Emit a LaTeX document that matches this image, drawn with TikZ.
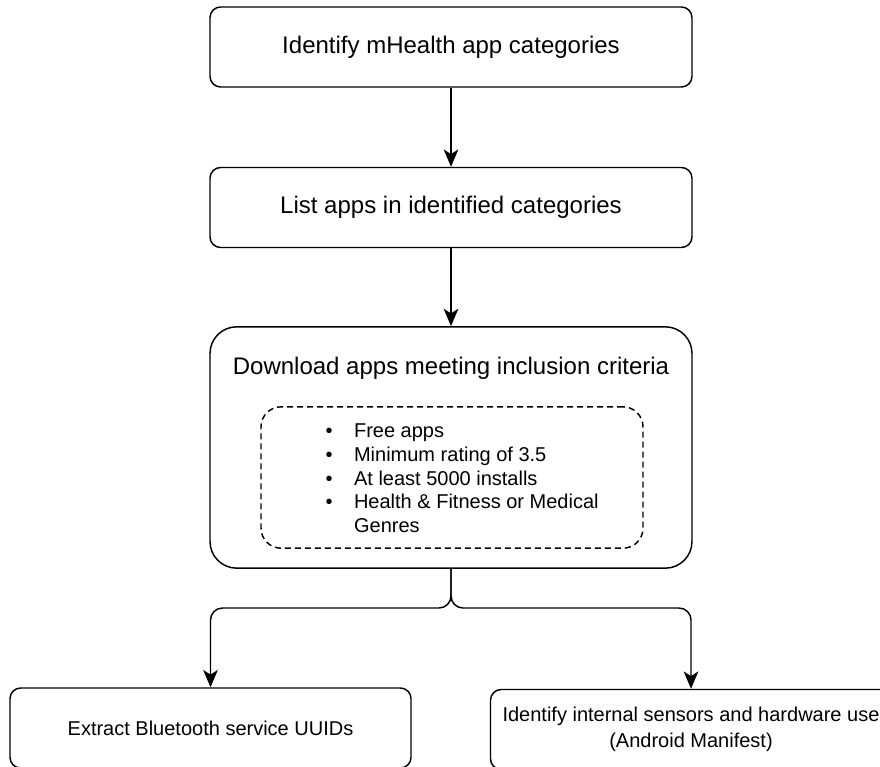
\documentclass[tikz,border=0pt]{standalone}
\usepackage{fontspec}
\setmainfont{Liberation Sans}
\usetikzlibrary{arrows.meta}

\begin{document}
\begin{tikzpicture}[x=0.75pt, y=-0.75pt, line width=1.1pt,
    >={Stealth[length=13pt,width=11pt,inset=3.5pt]},
    stepbox/.style={draw, rounded corners=8pt, minimum width=361.5pt, minimum height=60pt, font=\fontsize{18}{21}\selectfont},
    outbox/.style={draw, rounded corners=8pt, minimum width=300.75pt, minimum height=60pt, align=center, font=\fontsize{15}{19.5}\selectfont}]
      \useasboundingbox (0,0) rectangle (880,766);
      \clip (0,0) rectangle (880,766);
      \node[stepbox] (ident) at (451, 47) {Identify mHealth app categories};
      \node[stepbox] (list) at (451, 207.5) {List apps in identified categories};
      \node[stepbox, minimum height=181pt, rounded corners=20pt] (dl) at (451, 447.5) {};
      \node[font=\fontsize{18}{21}\selectfont] (dltitle) at (451, 368) {Download apps meeting inclusion criteria};
      \node[draw, dashed, dash pattern=on 4.5pt off 3pt, rounded corners=15pt, minimum width=286.5pt, minimum height=106pt] (crit) at (452, 477.5) {};
      \node[anchor=west, inner sep=0pt, font=\fontsize{15}{17.8}\selectfont] (critlist) at (325, 480.5)
        {\begin{tabular}{@{}l@{\hspace{16pt}}l@{}}
          \textbullet & Free apps\\
          \textbullet & Minimum rating of 3.5\\
          \textbullet & At least 5000 installs\\
          \textbullet & Health \& Fitness or Medical\\
                      & Genres
        \end{tabular}};
      \node[outbox] (bt) at (210.5, 728) {Extract Bluetooth service UUIDs};
      \node[outbox] (hw) at (691, 729.5) {Identify internal sensors and hardware use\\(Android Manifest)};
      \coordinate (split) at (451, 608);
      \draw[->] (ident) -- (list);
      \draw[->] (list) -- (dl);
      \draw[->, rounded corners=9pt] (dl.south) -- (split) -| (bt.north);
      \draw[->, rounded corners=9pt] (dl.south) -- (split) -| (hw.north);
   \end{tikzpicture}
\end{document}
